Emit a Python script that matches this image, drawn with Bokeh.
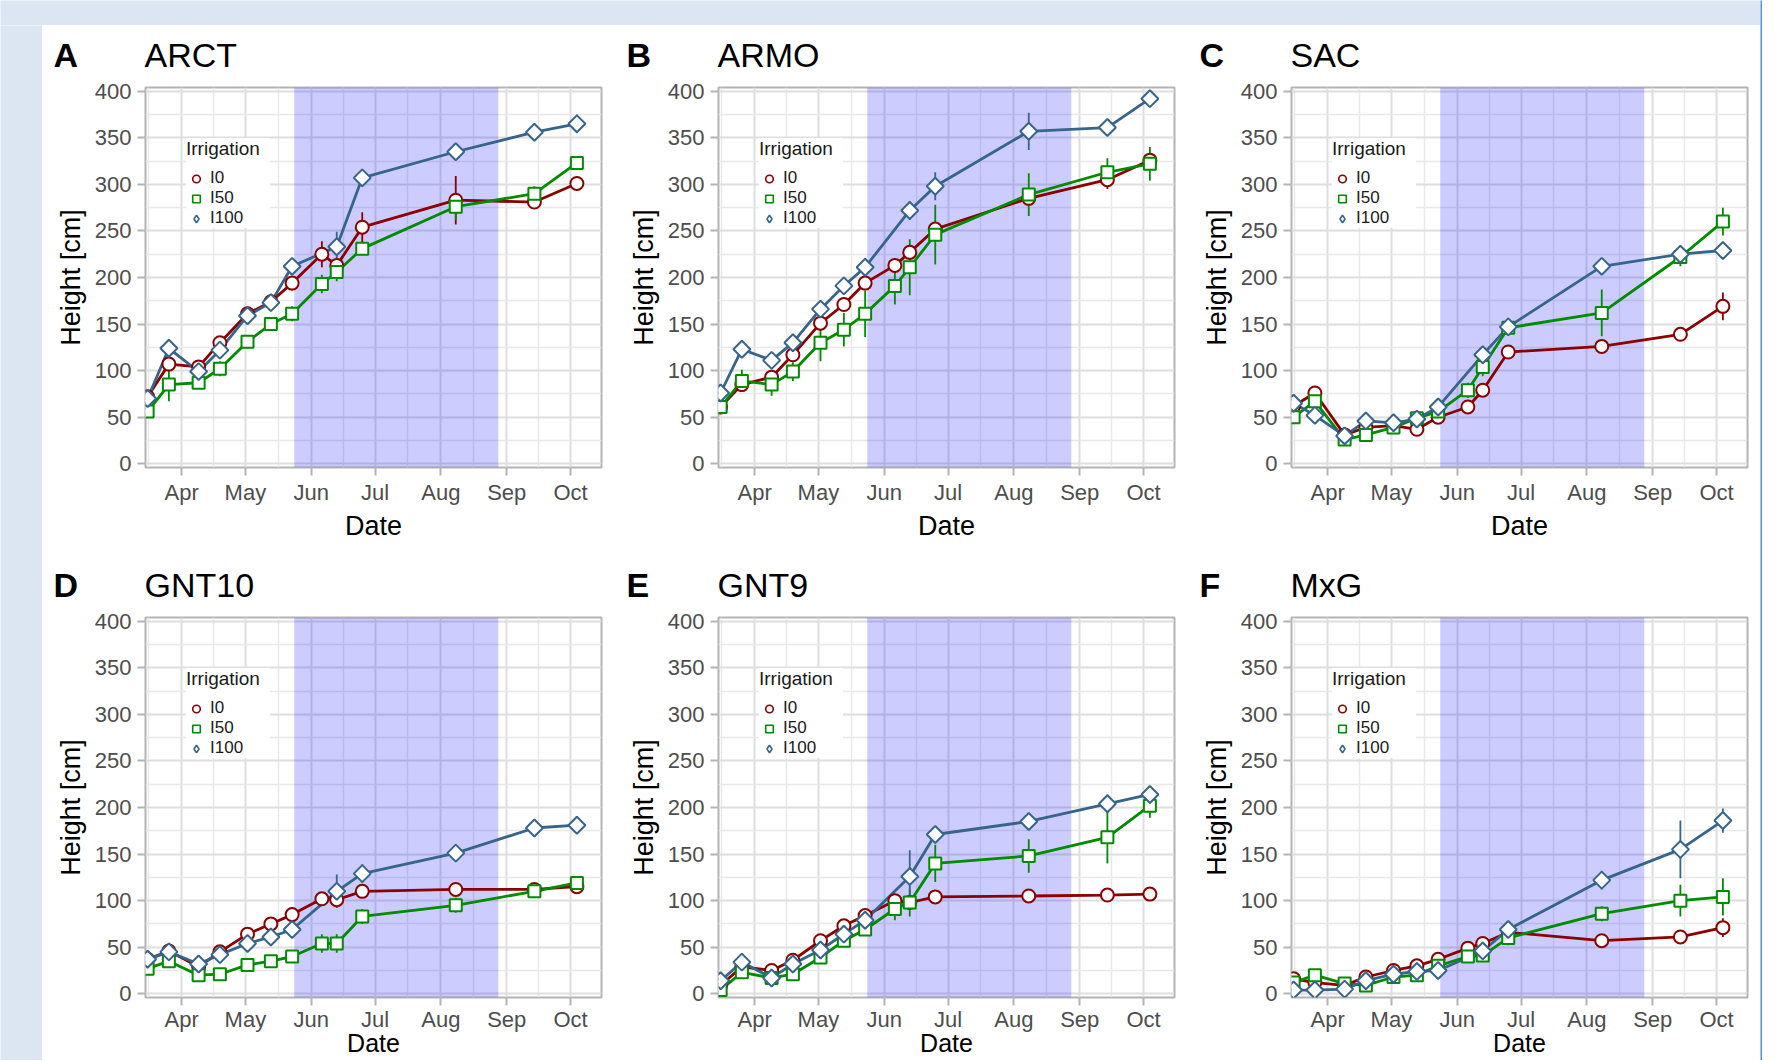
import math
import pandas as pd
from bokeh.plotting import figure
from bokeh.layouts import row, column
from bokeh.models import (FixedTicker, DatetimeTickFormatter, BoxAnnotation, Label,
                          Legend, LegendItem, Range1d)
from bokeh.embed import file_html
from bokeh.resources import INLINE

# ------------------------------------------------------------------ data
obs_dates = ["2017-03-16", "2017-03-26", "2017-04-09", "2017-04-19", "2017-05-02",
             "2017-05-13", "2017-05-23", "2017-06-06", "2017-06-13", "2017-06-25",
             "2017-08-08", "2017-09-14", "2017-10-04"]
i100_dates = ["2017-03-16", "2017-03-26", "2017-04-09", "2017-04-19", "2017-05-02",
              "2017-05-13", "2017-05-23", "2017-06-13", "2017-06-25",
              "2017-08-08", "2017-09-14", "2017-10-04"]
month_ticks = ["2017-04-01", "2017-05-01", "2017-06-01", "2017-07-01",
               "2017-08-01", "2017-09-01", "2017-10-01"]
y_ticks = [0, 50, 100, 150, 200, 250, 300, 350, 400]
irrigation_start = "2017-05-24"
irrigation_end = "2017-08-28"
x_start = "2017-03-15 00:00"
x_end = "2017-10-15 14:00"

panel_letters = ["A", "B", "C", "D", "E", "F"]
genotypes = ["ARCT", "ARMO", "SAC", "GNT10", "GNT9", "MxG"]

# A  ARCT
arct_i0 = [72, 107, 104, 130, 161, 174, 194, 225, 213, 254, 283, 281, 301]
arct_i0_se = [4, 5, 4, 5, 6, 6, 8, 14, 6, 16, 26, 5, 8]
arct_i50 = [56, 85, 87, 102, 131, 150, 161, 193, 206, 231, 276, 290, 323]
arct_i50_se = [3, 18, 5, 8, 7, 5, 8, 10, 10, 5, 14, 8, 5]
arct_i100 = [70, 124, 99, 122, 159, 173, 212, 233, 307, 335, 356, 365]
arct_i100_se = [4, 6, 5, 6, 6, 6, 5, 16, 5, 5, 5, 10]

# B  ARMO
armo_i0 = [61, 85, 93, 117, 151, 171, 194, 213, 227, 252, 285, 305, 326]
armo_i0_se = [3, 8, 5, 6, 6, 6, 6, 8, 7, 6, 8, 10, 8]
armo_i50 = [61, 89, 85, 99, 130, 144, 161, 191, 211, 246, 289, 313, 322]
armo_i50_se = [5, 12, 12, 10, 20, 18, 25, 20, 30, 32, 23, 15, 18]
armo_i100 = [76, 123, 111, 130, 166, 191, 211, 272, 298, 357, 361, 392]
armo_i100_se = [4, 5, 5, 5, 5, 5, 5, 10, 15, 20, 5, 5]

# C  SAC
sac_i0 = [62, 76, 31, 39, 41, 37, 50, 61, 79, 120, 126, 139, 169]
sac_i0_se = [4, 4, 3, 4, 8, 4, 4, 4, 4, 5, 4, 4, 15]
sac_i50 = [50, 67, 26, 31, 39, 49, 56, 79, 104, 146, 162, 222, 260]
sac_i50_se = [3, 4, 3, 3, 4, 4, 4, 8, 10, 5, 25, 10, 15]
sac_i100 = [65, 52, 30, 46, 44, 48, 61, 117, 147, 212, 225, 229]
sac_i100_se = [4, 4, 3, 4, 4, 4, 4, 5, 5, 4, 6, 4]

# D  GNT10
gnt10_i0 = [37, 46, 29, 45, 64, 75, 85, 102, 101, 110, 112, 112, 115]
gnt10_i0_se = [3, 4, 3, 4, 4, 4, 4, 5, 4, 4, 4, 3, 4]
gnt10_i50 = [27, 35, 20, 21, 31, 35, 40, 54, 54, 83, 95, 110, 119]
gnt10_i50_se = [3, 4, 4, 3, 4, 5, 4, 10, 10, 8, 8, 4, 4]
gnt10_i100 = [37, 45, 32, 42, 54, 61, 69, 110, 129, 151, 178, 181]
gnt10_i100_se = [3, 4, 3, 4, 4, 4, 4, 18, 10, 4, 4, 4]

# E  GNT9
gnt9_i0 = [9, 29, 25, 36, 57, 73, 84, 100, 98, 104, 105, 106, 107]
gnt9_i0_se = [3, 4, 3, 4, 4, 4, 4, 4, 4, 3, 3, 3, 3]
gnt9_i50 = [4, 23, 17, 21, 39, 57, 69, 91, 98, 140, 148, 168, 202]
gnt9_i50_se = [3, 5, 3, 4, 4, 5, 7, 12, 15, 20, 18, 28, 13]
gnt9_i100 = [14, 34, 17, 32, 47, 64, 79, 126, 171, 185, 204, 214]
gnt9_i100_se = [3, 4, 3, 4, 4, 4, 4, 28, 8, 4, 10, 4]

# F  MxG
mxg_i0 = [16, 12, 9, 18, 25, 30, 37, 49, 54, 66, 57, 61, 71]
mxg_i0_se = [3, 3, 3, 3, 3, 3, 3, 4, 4, 4, 3, 3, 10]
mxg_i50 = [12, 20, 11, 9, 18, 20, 30, 40, 41, 60, 86, 100, 104]
mxg_i50_se = [3, 3, 3, 3, 3, 3, 3, 4, 4, 8, 8, 17, 20]
mxg_i100 = [4, 4, 5, 14, 21, 24, 25, 46, 69, 122, 155, 186]
mxg_i100_se = [2, 2, 2, 3, 3, 3, 3, 4, 4, 10, 31, 13]

series_names = ["I0", "I50", "I100"]

# ------------------------------------------------------------------ style
FONT = "Liberation Sans"
COLORS = {"I0": "#8b0000", "I50": "#008b00", "I100": "#36648b"}
GRID_MAJOR = "#dedede"
GRID_MINOR = "#e8e8e8"
BORDER = "#b3b3b3"
BAND = "#dce6f2"
FRAME_H = 380
HEADER_H = 48
TOP_PAD = 14
FACET_W = [573, 573, 572]
RIGHT_PAD = [14, 14, 13]


def ms(d):
    return pd.Timestamp(d).value / 1e6


# minor x breaks midway between monthly breaks (extended one month each side)
_ext = ["2017-03-01"] + month_ticks + ["2017-11-01"]
x_minor = [(ms(a) + ms(b)) / 2 for a, b in zip(_ext[:-1], _ext[1:])]
y_minor = [(a + b) / 2 for a, b in zip(y_ticks[:-1], y_ticks[1:])]


def style_axis(ax, label):
    ax.axis_line_color = None
    ax.major_tick_line_color = BORDER
    ax.major_tick_line_width = 2
    ax.major_tick_out = 8
    ax.major_tick_in = 0
    ax.minor_tick_line_color = None
    ax.major_label_text_font = FONT
    ax.major_label_text_font_size = "22px"
    ax.major_label_text_color = "#4d4d4d"
    ax.major_label_standoff = 6
    ax.axis_label = label
    ax.axis_label_text_font = FONT
    ax.axis_label_text_font_size = "27px"
    ax.axis_label_text_font_style = "normal"
    ax.axis_label_text_color = "black"


def make_header(letters, names):
    total_w = sum(FACET_W)
    h = figure(width=total_w, height=HEADER_H, x_range=Range1d(0, total_w),
               y_range=Range1d(0, HEADER_H), output_backend="svg",
               toolbar_location=None, tools="", min_border=0,
               background_fill_color="white", border_fill_color="white",
               outline_line_color=None)
    h.axis.visible = False
    h.grid.visible = False
    x0 = 0
    for letter, name, w in zip(letters, names, FACET_W):
        h.add_layout(Label(x=x0 + 11, y=19, text=letter, text_font=FONT, text_font_size="34px",
                           text_font_style="bold", text_color="black",
                           text_baseline="alphabetic"))
        h.add_layout(Label(x=x0 + 102, y=19, text=name, text_font=FONT, text_font_size="34px",
                           text_font_style="normal", text_color="black",
                           text_baseline="alphabetic"))
        x0 += w
    return h


def make_panel(i0, i0_se, i50, i50_se, i100, i100_se, top_row, fig_w, mb_right):
    fig_h = (530 if top_row else 505) - HEADER_H
    p = figure(width=fig_w, height=fig_h, x_axis_type="datetime",
               x_range=Range1d(ms(x_start), ms(x_end)), y_range=Range1d(-4, 404),
               output_backend="svg", toolbar_location=None, tools="",
               min_border_left=103, min_border_right=mb_right, min_border_top=TOP_PAD,
               min_border_bottom=fig_h - TOP_PAD - FRAME_H,
               background_fill_color="white", border_fill_color="white",
               outline_line_color=BORDER, outline_line_width=2)

    xt = FixedTicker(ticks=[ms(d) for d in month_ticks], minor_ticks=x_minor)
    yt = FixedTicker(ticks=y_ticks, minor_ticks=y_minor)
    p.xaxis.ticker = xt
    p.xgrid.ticker = xt
    p.yaxis.ticker = yt
    p.ygrid.ticker = yt
    p.xaxis.formatter = DatetimeTickFormatter(months="%b", days="%b", years="%b")

    for g in (p.xgrid, p.ygrid):
        g.grid_line_color = GRID_MAJOR
        g.grid_line_width = 2
        g.minor_grid_line_color = GRID_MINOR
        g.minor_grid_line_width = 1.5

    style_axis(p.yaxis[0], "Height [cm]")
    p.yaxis[0].axis_label_standoff = 6
    style_axis(p.xaxis[0], "Date")
    if top_row:
        p.xaxis[0].major_label_standoff = 4
        p.xaxis[0].axis_label_standoff = 3
    else:
        # bottom row: the page ends just below the axis title (cut in the reference)
        p.xaxis[0].major_label_standoff = 1
        p.xaxis[0].axis_label_text_font_size = "25px"
        p.xaxis[0].axis_label_standoff = -6

    # irrigation period
    p.add_layout(BoxAnnotation(left=ms(irrigation_start), right=ms(irrigation_end),
                               fill_color="#0000ff", fill_alpha=0.2, line_color=None,
                               level="underlay"))

    specs = [
        ("I0", obs_dates, i0, i0_se, "circle", 13, 0.0),
        ("I50", obs_dates, i50, i50_se, "square", 12, 0.0),
        ("I100", i100_dates, i100, i100_se, "square", 12, math.pi / 4),
    ]
    for nm, dts, vals, ses, *_ in specs:
        xs = [ms(d) for d in dts]
        p.segment(x0=xs, x1=xs, y0=[v - s for v, s in zip(vals, ses)],
                  y1=[v + s for v, s in zip(vals, ses)], line_color=COLORS[nm], line_width=1.8)
    for nm, dts, vals, ses, *_ in specs:
        xs = [ms(d) for d in dts]
        p.line(xs, vals, line_color=COLORS[nm], line_width=2.8)

    # legend key glyphs (sit underneath the data markers, only their key is seen)
    key_markers = {"I0": "circle", "I50": "square", "I100": "diamond"}
    keys = {}
    for nm, dts, vals, *_ in specs:
        xs = [ms(d) for d in dts]
        keys[nm] = p.scatter(xs, vals, marker=key_markers[nm], size=6, fill_color="white",
                             line_color=COLORS[nm], line_width=1.6)

    for nm, dts, vals, ses, marker, size, ang in specs:
        xs = [ms(d) for d in dts]
        p.scatter(xs, vals, marker=marker, size=size, angle=ang,
                  fill_color="white", line_color=COLORS[nm], line_width=2)

    legend = Legend(items=[LegendItem(label=nm, renderers=[keys[nm]]) for nm in series_names],
                    title="Irrigation", location=(41, 239),
                    title_text_font=FONT, title_text_font_size="19px",
                    title_text_font_style="normal", title_text_color="#1a1a1a",
                    title_text_line_height=1.0, title_standoff=8,
                    label_text_font=FONT, label_text_font_size="17px",
                    label_text_color="#1a1a1a", label_text_line_height=1.0,
                    glyph_width=20, glyph_height=19, label_height=19, label_width=60,
                    label_standoff=4, spacing=0, padding=11, margin=0,
                    border_line_color=None,
                    background_fill_color="white", background_fill_alpha=1.0)
    p.add_layout(legend)
    return p


def band(w, h, color):
    b = figure(width=w, height=h, output_backend="svg", toolbar_location=None, tools="",
               min_border=0, background_fill_color=color, border_fill_color=color,
               outline_line_color=None)
    b.axis.visible = False
    b.grid.visible = False
    return b


top_data = [
    (arct_i0, arct_i0_se, arct_i50, arct_i50_se, arct_i100, arct_i100_se),
    (armo_i0, armo_i0_se, armo_i50, armo_i50_se, armo_i100, armo_i100_se),
    (sac_i0, sac_i0_se, sac_i50, sac_i50_se, sac_i100, sac_i100_se),
]
bottom_data = [
    (gnt10_i0, gnt10_i0_se, gnt10_i50, gnt10_i50_se, gnt10_i100, gnt10_i100_se),
    (gnt9_i0, gnt9_i0_se, gnt9_i50, gnt9_i50_se, gnt9_i100, gnt9_i100_se),
    (mxg_i0, mxg_i0_se, mxg_i50, mxg_i50_se, mxg_i100, mxg_i100_se),
]

row1 = column(make_header(panel_letters[:3], genotypes[:3]),
              row(*[make_panel(*d, True, w, r) for d, w, r in zip(top_data, FACET_W, RIGHT_PAD)]))
row2 = column(make_header(panel_letters[3:], genotypes[3:]),
              row(*[make_panel(*d, False, w, r) for d, w, r in zip(bottom_data, FACET_W, RIGHT_PAD)]))

layout = row(
    column(band(1760, 25, BAND), row(band(42, 1035, BAND), column(row1, row2))),
    band(2, 1060, "#5a8ed6"),
    band(18, 1060, "white"),
)

open("out.html", "w").write(file_html(layout, INLINE))
